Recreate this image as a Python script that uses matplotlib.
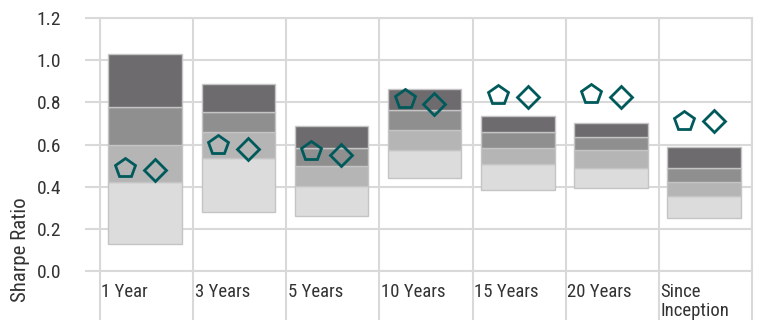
import matplotlib
matplotlib.use("Agg")
import matplotlib.pyplot as plt
import numpy as np

plt.rcParams['font.family'] = ['Liberation Sans Narrow', 'Roboto Condensed', 'Roboto', 'DejaVu Sans']

categories = ["1 Year", "3 Years", "5 Years", "10 Years", "15 Years", "20 Years", "Since\nInception"]
# percentile boundaries: bottom (95th), 75th, median, 25th, top (5th)
p_bottom = [0.126, 0.28, 0.26, 0.442, 0.384, 0.393, 0.25]
p_q1     = [0.42, 0.535, 0.403, 0.573, 0.509, 0.49, 0.357]
p_med    = [0.60, 0.66, 0.499, 0.67, 0.584, 0.573, 0.423]
p_q3     = [0.78, 0.755, 0.584, 0.766, 0.659, 0.634, 0.49]
p_top    = [1.03, 0.887, 0.689, 0.861, 0.736, 0.70, 0.586]
fund     = [0.49, 0.597, 0.57, 0.818, 0.837, 0.839, 0.712]
index    = [0.48, 0.578, 0.548, 0.79, 0.826, 0.826, 0.712]
yticks = [0.0, 0.2, 0.4, 0.6, 0.8, 1.0, 1.2]

grid_c = '#d9d9d9'
band_colors = ['#dcdcdc', '#b5b5b5', '#8f8f8f', '#6d6b6e']
teal = '#005a5b'
text_c = '#333333'

fig = plt.figure(figsize=(7.58, 3.2), dpi=100)
W, H = 758, 320
ax = fig.add_axes([100 / W, 1 - 271 / H, (752 - 100) / W, (271 - 18) / H])

x = np.arange(len(categories))
centers = x + 0.485
bounds = [p_bottom, p_q1, p_med, p_q3, p_top]
for k in range(4):
    lo = np.array(bounds[k]); hi = np.array(bounds[k + 1])
    ax.bar(centers, hi - lo, bottom=lo, width=0.79, color=band_colors[k],
           edgecolor='#c4c4c4', linewidth=1.0, zorder=3)

ax.plot(x + 0.27, fund, linestyle='none', marker='p', markersize=15,
        markerfacecolor='none', markeredgecolor=teal, markeredgewidth=2.0, zorder=5)
ax.plot(x + 0.59, index, linestyle='none', marker='D', markersize=11,
        markerfacecolor='none', markeredgecolor=teal, markeredgewidth=2.0, zorder=5)

ax.set_xlim(0, len(categories))
ax.set_ylim(0, 1.2)
ax.set_yticks(yticks)
ax.set_yticklabels([f"{v:.1f}" for v in yticks])
ax.set_xticks(np.arange(len(categories) + 1))
ax.set_xticklabels([])
ax.tick_params(axis='y', length=10.8, width=1.5, color=grid_c, pad=17, labelsize=14, labelcolor=text_c)
ax.tick_params(axis='x', length=35.5, width=1.5, color=grid_c, direction='out')
ax.grid(True, color=grid_c, linewidth=1.5, zorder=0)
ax.set_axisbelow(True)
for s in ax.spines.values():
    s.set_color(grid_c)
    s.set_linewidth(1.5)

for i, lab in enumerate(categories):
    ax.text(i + 0.015, -0.055, lab, ha='left', va='top', fontsize=13.5, color=text_c,
            linespacing=1.1)

fig.text(21 / W, 1 - 250 / H, "Sharpe Ratio", rotation=90, ha='center', va='center',
         fontsize=15, color=text_c)

fig.savefig("out.png", dpi=100)
